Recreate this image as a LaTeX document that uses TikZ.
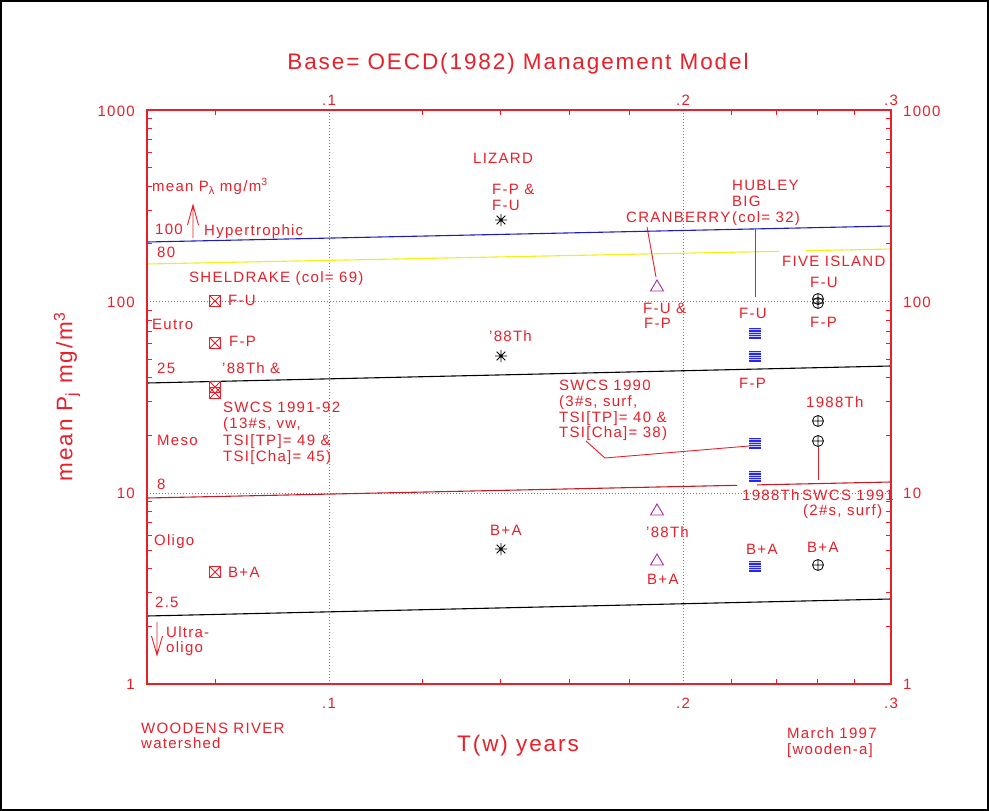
\documentclass[tikz,border=0pt]{standalone}
\usepackage{fontspec}
\setmainfont{Liberation Sans}[LetterSpace=8.5]
\usetikzlibrary{arrows.meta}
\definecolor{pr}{RGB}{232,32,42}
\definecolor{gridc}{RGB}{255,70,70}
\definecolor{pu}{RGB}{165,40,165}
\definecolor{bl}{RGB}{40,40,235}
\definecolor{bline}{RGB}{30,30,190}
\definecolor{yl}{RGB}{240,240,20}
\tikzset{
  lbl/.style={text=pr, inner sep=0pt, anchor=base west, font=\fontsize{15}{17}\selectfont},
  lblr/.style={lbl, anchor=base east},
  lblc/.style={lbl, anchor=base},
  big/.style={text=pr, inner sep=0pt, anchor=base, font=\fontsize{22.5}{24}\selectfont},
  frame/.style={pr, line width=2pt},
  tick/.style={pr, line width=0.8pt},
  gridl/.style={gridc, line width=0.9pt, dash pattern=on 1.2pt off 1.8pt},
  leader/.style={pr, line width=0.9pt},
  trend/.style={line width=1.1pt},
  sqx/.pic={\draw[pr, line width=0.9pt] (-5.5,-5.5) rectangle (5.5,5.5) (-5.5,-5.5)--(5.5,5.5) (-5.5,5.5)--(5.5,-5.5); \coordinate (-c) at (0,0);},
  astr/.pic={\draw[black, line width=0.8pt] (-6,0)--(6,0) (0,-6)--(0,6) (-4.3,-4.3)--(4.3,4.3) (-4.3,4.3)--(4.3,-4.3); \coordinate (-c) at (0,0);},
  tri/.pic={\draw[pu, line width=0.9pt, line join=miter] (-6.5,5)--(6.5,5)--(0,-6)--cycle; \coordinate (-c) at (0,0);},
  bsq/.pic={\fill[bl] (-6,-5.5) rectangle (6,5.5); \draw[white!75!bl, line width=0.6pt] (-6,-3.3)--(6,-3.3) (-6,-1.1)--(6,-1.1) (-6,1.1)--(6,1.1) (-6,3.3)--(6,3.3); \coordinate (-c) at (0,0);},
  oplus/.pic={\draw[black, line width=0.8pt] (0,0) circle (5.5pt) (-5.5,0)--(5.5,0) (0,-5.5)--(0,5.5); \coordinate (-c) at (0,0);}
}
\begin{document}
\begin{tikzpicture}[x=1pt,y=-1pt]
\useasboundingbox (0,0) rectangle (989,811);
\fill[white] (0,0) rectangle (989,811);
\draw[black, line width=2pt] (1,1) rectangle (988,810);

% grid
\draw[gridl] (329,110) -- (329,684) (683,110) -- (683,684);
\draw[gridl] (147,301) -- (891,301) (147,493) -- (891,493);

% ticks
\foreach \k in {0,1,2}{
  \foreach \m in {2,...,9}{
    \pgfmathsetmacro{\yy}{684-191.3*(\k+log10(\m))}
    \draw[tick] (147,\yy) -- (152,\yy) (891,\yy) -- (886,\yy);
  }
}
\foreach \v in {0.08,0.12,0.14,0.16,0.18,0.22,0.24,0.26,0.28}{
  \pgfmathsetmacro{\xx}{329+1176*log10(\v/0.1)}
  \draw[tick] (\xx,110) -- (\xx,115) (\xx,684) -- (\xx,679);
}

% trophic boundary lines
\draw[trend, bline] (147,242) -- (891,226);
\draw[trend, yl] (147,264) -- (779,251.3) (806,250.7) -- (891,249);
\draw[trend, black] (147,383) -- (891,366);
\draw[trend, pr!85!black] (147,498) -- (737,485.3) (757,484.9) -- (891,482);
\draw[trend, black] (147,616) -- (891,599);

% frame
\draw[frame] (147,110) rectangle (891,684);

% axis labels
\node[lblr] (l1000) at (135,116) {1000};
\node[lblr] (l100) at (135,307) {100};
\node[lblr] (l10) at (135,498) {10};
\node[lblr] (l1) at (135,689) {1};
\node[lbl] (r1000) at (903,116) {1000};
\node[lbl] (r100) at (903,307) {100};
\node[lbl] (r10) at (903,498) {10};
\node[lbl] (r1) at (903,689) {1};
\node[lblc] (t1) at (329,105) {.1};
\node[lblc] (t2) at (683,105) {.2};
\node[lblc] (t3) at (891,105) {.3};
\node[lblc] (b1) at (329,708) {.1};
\node[lblc] (b2) at (683,708) {.2};
\node[lblc] (b3) at (891,708) {.3};

\node[big] (title) at (518,69) {Base= OECD(1982) Management Model};
\node[big] (xlab) at (518,751) {T(w) years};
\node[text=pr, inner sep=0pt, rotate=90, font=\fontsize{22.5}{24}\selectfont] (ylab) at (67,397) {mean P\textsubscript{j} mg/m\textsuperscript{3}};

% left-side annotations
\node[lbl] (pl) at (152,191) {mean P\raisebox{-3pt}{\fontsize{11}{12}\selectfont λ} mg/m\textsuperscript{3}};
\node[lbl] (h100) at (155,234) {100};
\node[lbl] (hyp) at (204,235) {Hypertrophic};
\coordinate (upa) at (193,238);
\coordinate (upb) at (193,205);
\draw[pr, line width=0.9pt] (upa) -- (upb) (187.5,225) -- (upb) -- (198.5,225);
\node[lbl] (h80) at (157,257) {80};
\node[lbl] (eut) at (152,329) {Eutro};
\node[lbl] (h25) at (157,373) {25};
\node[lbl] (mes) at (157,445) {Meso};
\node[lbl] (h8) at (157,489) {8};
\node[lbl] (oli) at (154,545) {Oligo};
\node[lbl] (h25b) at (155,607) {2.5};
\coordinate (dna) at (157,622);
\coordinate (dnb) at (157,655);
\draw[pr, line width=0.9pt] (dna) -- (dnb) (151.5,636) -- (dnb) -- (162.5,636);
\node[lbl] (ult) at (166,637) {Ultra-};
\node[lbl] (ulo) at (166,652) {oligo};
\node[lbl] (wood) at (141,733) {WOODENS RIVER};
\node[lbl] (wats) at (141,748) {watershed};
\node[lbl] (mar) at (787,738) {March 1997};
\node[lbl] (wa) at (787,754) {[wooden-a]};

% Sheldrake
\node[lbl] (shel) at (189,282) {SHELDRAKE (col= 69)};
\pic (s1) at (215,301) {sqx};
\node[lbl] (s1l) at (228,305) {F-U};
\pic (s2) at (215,343) {sqx};
\node[lbl] (s2l) at (229,346) {F-P};
\node[lbl] (s3l) at (222,373) {'88Th \&};
\pic (s3) at (215,387) {sqx};
\pic (s4) at (215,393) {sqx};
\node[lbl] (sw1) at (223,412) {SWCS 1991-92};
\node[lbl] (sw2) at (223,428) {(13\#s, vw,};
\node[lbl] (sw3) at (223,445) {TSI[TP]= 49 \&};
\node[lbl] (sw4) at (223,461) {TSI[Cha]= 45)};
\pic (s5) at (215,572) {sqx};
\node[lbl] (s5l) at (228,577) {B+A};

% Lizard
\node[lbl] (liz) at (473,163) {LIZARD};
\node[lbl] (lz1) at (492,194) {F-P \&};
\node[lbl] (lz2) at (492,210) {F-U};
\pic (a1) at (501,220) {astr};
\node[lbl] (lz3) at (489,341) {'88Th};
\pic (a2) at (501,356) {astr};
\node[lbl] (lz4) at (490,535) {B+A};
\pic (a3) at (501,549) {astr};

% Cranberry
\node[lbl] (cran) at (626,222) {CRANBERRY};
\coordinate (cr1) at (647,227);
\coordinate (cr2) at (656,277);
\draw[leader] (cr1) -- (cr2);
\pic (t1m) at (657,286) {tri};
\node[lbl] (cr3) at (643,313) {F-U \&};
\node[lbl] (cr4) at (644,328) {F-P};
\pic (t2m) at (657,510) {tri};
\node[lbl] (cr5) at (646,537) {'88Th};
\pic (t3m) at (657,560) {tri};
\node[lbl] (cr6) at (647,584) {B+A};

% Hubley Big
\node[lbl] (hub) at (732,190) {HUBLEY};
\node[lbl] (big) at (732,206) {BIG};
\node[lbl] (col) at (732,222) {(col= 32)};
\coordinate (hb1) at (755,229);
\coordinate (hb2) at (755,297);
\draw[leader] (hb1) -- (hb2);
\node[lbl] (hb3) at (739,318) {F-U};
\pic (q1) at (755,333) {bsq};
\pic (q2) at (755,356) {bsq};
\node[lbl] (hb4) at (739,388) {F-P};
\node[lbl] (sv1) at (559,390) {SWCS 1990};
\node[lbl] (sv2) at (559,406) {(3\#s, surf,};
\node[lbl] (sv3) at (559,422) {TSI[TP]= 40 \&};
\node[lbl] (sv4) at (559,437) {TSI[Cha]= 38)};
\pic (q3) at (755,443) {bsq};
\coordinate (sv5) at (586,441);
\coordinate (sv6) at (605,458);
\coordinate (sv7) at (749,446);
\draw[leader] (sv5) -- (sv6) -- (sv7);
\pic (q4) at (755,476) {bsq};
\node[lbl] (hb5) at (742,500) {1988Th};
\node[lbl] (hb6) at (746,554) {B+A};
\pic (q5) at (755,566) {bsq};

% Five Island
\node[lbl] (fi) at (782,266) {FIVE ISLAND};
\node[lbl] (fi1) at (810,287) {F-U};
\pic (o1) at (818,299) {oplus};
\pic (o2) at (818,303) {oplus};
\node[lbl] (fi2) at (810,327) {F-P};
\node[lbl] (fi3) at (806,407) {1988Th};
\pic (o3) at (818,421) {oplus};
\pic (o4) at (818,441) {oplus};
\coordinate (fl1) at (818,447);
\coordinate (fl2) at (818,480);
\draw[leader] (fl1) -- (fl2);
\node[lbl] (fi4) at (802,500) {SWCS 1991};
\node[lbl] (fi5) at (803,515) {(2\#s, surf)};
\node[lbl] (fi6) at (807,552) {B+A};
\pic (o5) at (818,565) {oplus};
\end{tikzpicture}
\end{document}
